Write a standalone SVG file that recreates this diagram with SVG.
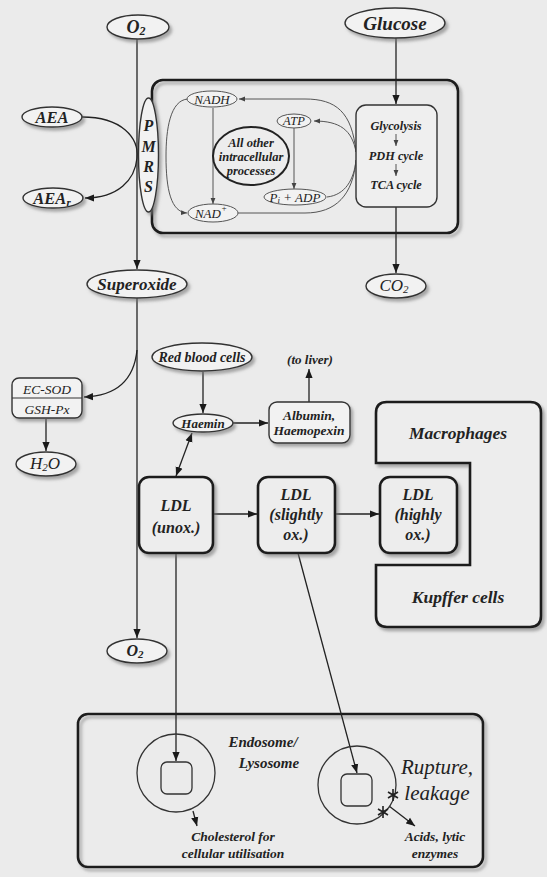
<svg xmlns="http://www.w3.org/2000/svg" width="547" height="877" viewBox="0 0 547 877">
<defs>
<filter id="sh" x="-20%" y="-20%" width="150%" height="160%">
<feDropShadow dx="2.5" dy="3" stdDeviation="1.8" flood-color="#777" flood-opacity="0.6"/>
</filter>
<marker id="ah" viewBox="0 0 10 10" refX="10" refY="5" markerWidth="9" markerHeight="9" markerUnits="userSpaceOnUse" orient="auto-start-reverse">
<path d="M0,1 L10,5 L0,9 Z" fill="#1a1a1a"/>
</marker>
<marker id="ahs" viewBox="0 0 10 10" refX="10" refY="5" markerWidth="6" markerHeight="6" markerUnits="userSpaceOnUse" orient="auto">
<path d="M0,1 L10,5 L0,9 Z" fill="#444"/>
</marker>
<style>
.bg{fill:#ebebeb}
.nd{fill:#f2f2f2;stroke:#333;stroke-width:1.4;filter:url(#sh)}
.bx{fill:#ededed;stroke:#1a1a1a;stroke-width:2.6;filter:url(#sh)}
.cb{fill:none;stroke:#1a1a1a;stroke-width:2.6;filter:url(#sh)}
.ln{fill:none;stroke:#222;stroke-width:1.3}
.gl{fill:none;stroke:#555;stroke-width:1}
.th{fill:none;stroke:#333;stroke-width:1.3}
text{font-family:"Liberation Serif","DejaVu Serif","Times New Roman",serif;font-style:italic;font-weight:bold;fill:#222;text-anchor:middle;dominant-baseline:central}
.nb{font-weight:normal}
</style>
</defs>
<rect class="bg" x="0" y="0" width="547" height="877"/>

<g id="cell-box">
<rect class="cb" x="152" y="80" width="306" height="153" rx="11"/>
</g>
<g id="endosome-box"><rect class="cb" x="78" y="714" width="405" height="153" rx="10"/></g>

<g id="connectors">
<line class="ln" x1="137" y1="39" x2="137" y2="269" marker-end="url(#ah)"/>
<line class="ln" x1="137" y1="298" x2="137" y2="638" marker-end="url(#ah)"/>
<line class="ln" x1="396" y1="38" x2="396" y2="104" marker-end="url(#ah)"/>
<line class="ln" x1="396" y1="207" x2="396" y2="273" marker-end="url(#ah)"/>
<path class="ln" d="M82,117 C122,117 139,138 137,158 C135,180 118,198 85,198" marker-end="url(#ah)"/>
<path class="ln" d="M137,350 C134,380 116,396 84,397" marker-end="url(#ah)"/>
<line class="ln" x1="46" y1="419" x2="46" y2="451" marker-end="url(#ah)"/>
<line class="ln" x1="203" y1="372" x2="203" y2="413" marker-end="url(#ah)"/>
<line class="ln" x1="233" y1="423" x2="268" y2="423" marker-end="url(#ah)"/>
<line class="ln" x1="309" y1="402" x2="309" y2="369" marker-end="url(#ah)"/>
<line class="ln" x1="192" y1="433" x2="176" y2="476" marker-start="url(#ah)" marker-end="url(#ah)"/>
<line class="ln" x1="213" y1="514" x2="257" y2="514" marker-end="url(#ah)"/>
<line class="ln" x1="335" y1="514" x2="379" y2="514" marker-end="url(#ah)"/>
<line class="ln" x1="176" y1="553" x2="176" y2="761" marker-end="url(#ah)"/>
<line class="ln" x1="298" y1="553" x2="357" y2="773" marker-end="url(#ah)"/>
<line class="gl" x1="213" y1="108" x2="213" y2="204" marker-end="url(#ahs)"/>
<line class="gl" x1="294" y1="128" x2="294" y2="189" marker-end="url(#ahs)"/>
<path class="gl" d="M356,152 C352,112 336,99 305,99 L239,99" marker-end="url(#ahs)"/>
<path class="gl" d="M238,213 L305,213 C336,213 353,195 356,160"/>
<path class="gl" d="M356,152 C352,130 340,121 314,121" marker-end="url(#ahs)"/>
<path class="gl" d="M327,197 C345,195 354,180 356,160"/>
<path class="gl" d="M188,99 C170,100 166,130 166,156 C166,190 171,212 187,213" marker-end="url(#ahs)"/>
<line class="ln" x1="193" y1="811" x2="197" y2="826" marker-end="url(#ah)"/>
<line class="ln" x1="389" y1="806" x2="415" y2="826" marker-end="url(#ah)"/>
</g>

<g id="o2-top"><ellipse class="nd" cx="138" cy="27" rx="31" ry="12"/><text x="136" y="27" font-size="18">O<tspan font-size="12" dy="4">2</tspan></text></g>
<g id="glucose"><ellipse class="nd" cx="395" cy="23" rx="50" ry="15"/><text x="395" y="23" font-size="19">Glucose</text></g>
<g id="aea"><ellipse class="nd" cx="52" cy="117" rx="30" ry="10"/><text x="52" y="117" font-size="16.5">AEA</text></g>
<g id="aear"><ellipse class="nd" cx="53" cy="198" rx="30" ry="10"/><text x="52" y="198" font-size="16.5">AEA<tspan font-size="11" dy="4">r</tspan></text></g>
<g id="pmrs"><ellipse class="nd" cx="148.5" cy="155" rx="10" ry="57"/>
<text x="148.5" y="125" font-size="16">P</text><text x="148.5" y="146" font-size="16">M</text><text x="148.5" y="166" font-size="16">R</text><text x="148.5" y="186" font-size="16">S</text></g>
<g id="nadh"><ellipse cx="212" cy="99" rx="25" ry="8" fill="#f2f2f2" stroke="#555"/><text x="212" y="99" font-size="13" class="nb">NADH</text></g>
<g id="nadplus"><ellipse cx="213" cy="213" rx="25" ry="9" fill="#f2f2f2" stroke="#555"/><text x="211" y="213" font-size="13" class="nb">NAD<tspan font-size="9" dy="-5">+</tspan></text></g>
<g id="atp"><ellipse cx="294" cy="121" rx="17" ry="7" fill="#f2f2f2" stroke="#555"/><text x="294" y="121" font-size="12.5" class="nb">ATP</text></g>
<g id="piadp"><ellipse cx="295" cy="197" rx="31" ry="8" fill="#f2f2f2" stroke="#555"/><text x="295" y="197" font-size="13" class="nb">P<tspan font-size="9" dy="3">i</tspan><tspan dy="-3"> + ADP</tspan></text></g>
<g id="other-processes"><ellipse cx="251" cy="156" rx="38" ry="29" fill="#ededed" stroke="#222" stroke-width="2"/>
<text x="251" y="143" font-size="12.5">All other</text><text x="251" y="157" font-size="12.5">intracellular</text><text x="251" y="171" font-size="12.5">processes</text></g>
<g id="glycolysis"><rect x="356" y="105" width="81" height="102" rx="10" fill="#efefef" stroke="#333" stroke-width="1.4"/>
<text x="396" y="126" font-size="12.3">Glycolysis</text><text x="396" y="156" font-size="12.3">PDH cycle</text><text x="396" y="185" font-size="12.3">TCA cycle</text>
<line class="gl" x1="396" y1="134" x2="396" y2="146" marker-end="url(#ahs)"/>
<line class="gl" x1="396" y1="164" x2="396" y2="176" marker-end="url(#ahs)"/></g>
<g id="co2"><ellipse class="nd" cx="396" cy="286" rx="30" ry="12"/><text x="394" y="285" font-size="17" class="nb">CO<tspan font-size="11" dy="4">2</tspan></text></g>
<g id="superoxide"><ellipse class="nd" cx="137" cy="284" rx="50" ry="14"/><text x="137" y="284" font-size="17">Superoxide</text></g>
<g id="ecsod"><rect class="nd" x="12" y="378" width="70" height="40" rx="7"/><line x1="12" y1="398" x2="82" y2="398" stroke="#333" stroke-width="1"/>
<text x="47" y="389" font-size="13.5" class="nb">EC-SOD</text><text x="47" y="409" font-size="13.5" class="nb">GSH-Px</text></g>
<g id="h2o"><ellipse class="nd" cx="46" cy="464" rx="30" ry="12"/><text x="45" y="463" font-size="17" class="nb">H<tspan font-size="11" dy="4">2</tspan><tspan dy="-4">O</tspan></text></g>
<g id="rbc"><ellipse class="nd" cx="202" cy="357" rx="50" ry="14"/><text x="202" y="357" font-size="14">Red blood cells</text></g>
<g id="haemin"><ellipse class="nd" cx="203" cy="423" rx="30" ry="9"/><text x="203" y="423" font-size="13">Haemin</text></g>
<g id="albumin"><rect class="nd" x="269" y="402" width="81" height="41" rx="8"/><text x="309" y="415" font-size="13.5">Albumin,</text><text x="309" y="430" font-size="13.5">Haemopexin</text></g>
<g id="to-liver"><text x="310" y="359" font-size="13">(to liver)</text></g>
<g id="ldl-unox"><rect class="bx" x="139" y="477" width="74" height="76" rx="10"/><text x="176" y="505" font-size="16">LDL</text><text x="176" y="527" font-size="16">(unox.)</text></g>
<g id="ldl-slightly"><rect class="bx" x="258" y="477" width="77" height="76" rx="10"/><text x="296" y="494" font-size="16">LDL</text><text x="296" y="514" font-size="16">(slightly</text><text x="296" y="534" font-size="16">ox.)</text></g>
<g id="macrophages"><path class="bx" d="M387,402 H530 Q541,402 541,413 V616 Q541,627 530,627 H387 Q376,627 376,616 V565 H470 V463 H376 V413 Q376,402 387,402 Z"/>
<text x="458" y="433" font-size="17.5">Macrophages</text><text x="458" y="597" font-size="17.5">Kupffer cells</text></g>
<g id="ldl-highly"><rect class="bx" x="380" y="477" width="77" height="76" rx="10"/><text x="418" y="494" font-size="16">LDL</text><text x="418" y="514" font-size="16">(highly</text><text x="418" y="534" font-size="16">ox.)</text></g>
<g id="o2-bottom"><ellipse class="nd" cx="137" cy="651" rx="30" ry="12"/><text x="135" y="650" font-size="16">O<tspan font-size="11" dy="4">2</tspan></text></g>

<g id="lysosome1"><circle class="th" cx="176" cy="773" r="39"/><rect class="th" x="161" y="762" width="31" height="32" rx="6"/>
<text x="263" y="742" font-size="15">Endosome/</text><text x="269" y="763" font-size="15">Lysosome</text></g>
<g id="cholesterol"><text x="233" y="836" font-size="13.5">Cholesterol for</text><text x="233" y="853" font-size="13.5">cellular utilisation</text></g>
<g id="lysosome2"><circle class="th" cx="357" cy="785" r="39"/><rect class="th" x="341" y="774" width="31" height="32" rx="6"/>
<text x="437" y="767" font-size="21" class="nb">Rupture,</text><text x="437" y="793" font-size="21" class="nb">leakage</text></g>
<g id="rupture">
<path d="M393,789 L393,801 M388,792 L398,798 M388,798 L398,792" stroke="#222" stroke-width="1.6"/>
<path d="M383,806 L383,818 M378,809 L388,815 M378,815 L388,809" stroke="#222" stroke-width="1.6"/>
<text x="435" y="836" font-size="13.5">Acids, lytic</text><text x="435" y="853" font-size="13.5">enzymes</text></g>
</svg>
